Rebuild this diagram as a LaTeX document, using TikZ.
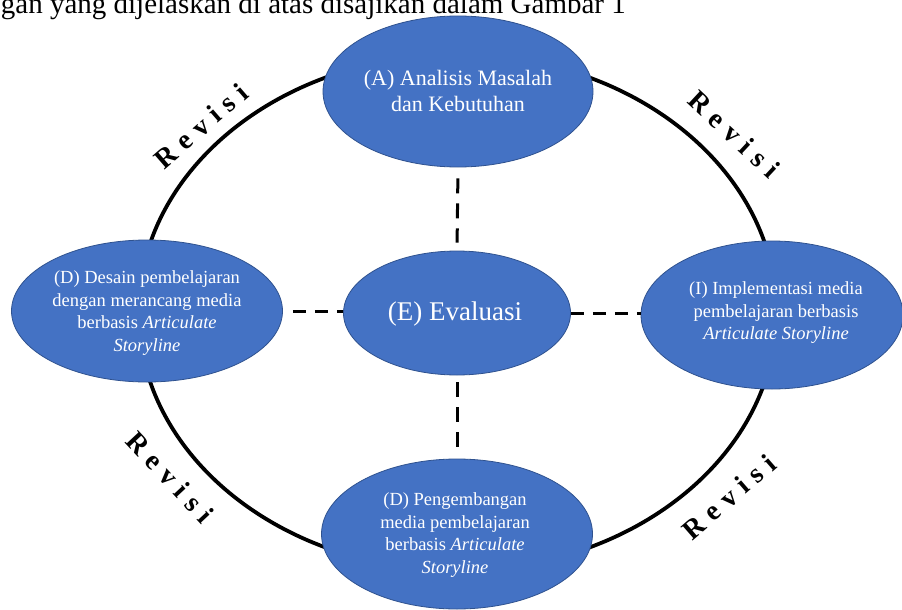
\documentclass[tikz,border=0pt]{standalone}
\usepackage{fontspec}
\setmainfont{Liberation Serif}
\usetikzlibrary{shapes.geometric}
\definecolor{blu}{HTML}{4472C4}
\definecolor{bluedge}{HTML}{2F528F}
\newcommand{\revword}{R\hspace{8pt}e\hspace{8pt}v\hspace{8pt}i\hspace{8pt}s\hspace{8pt}i}
\begin{document}
\begin{tikzpicture}[x=1pt,y=-1pt,
  blob/.style={ellipse, fill=blu, draw=bluedge, line width=0.8pt, inner sep=0pt},
  txt/.style={text=white, align=center, font=\fontsize{18.5}{22.5}\selectfont},
  ring/.style={line width=3.8pt, black},
  dashline/.style={line width=3pt, dash pattern=on 13pt off 9pt},
  vdashline/.style={line width=3pt, dash pattern=on 15pt off 10pt},
  revlabel/.style={font=\fontsize{28}{32}\selectfont\bfseries, inner sep=0pt}]
\useasboundingbox (0,0) rectangle (902,610);
\fill[white] (0,0) rectangle (902,610);
% header text (cut at the top, as in the source)
\node[anchor=base east, inner sep=0pt, font=\fontsize{29}{34}\selectfont] (hdr) at (626,14) {gan yang dijelaskan di atas disajikan dalam Gambar 1};
% ring
\coordinate (ringc) at (457.5,312.5);
\draw[ring] (ringc) ellipse [x radius=319pt, y radius=258pt];
% ellipses
\node[blob, minimum width=270pt, minimum height=151pt] (A) at (458,91.5) {};
\node[blob, minimum width=271pt, minimum height=142pt] (Dl) at (147,311) {};
\node[blob, minimum width=227pt, minimum height=124pt] (E) at (457,313) {};
\node[blob, minimum width=262pt, minimum height=148pt] (I) at (772,315) {};
\node[blob, minimum width=271pt, minimum height=150pt] (Db) at (457,534) {};
% texts
\node[txt, font=\fontsize{22}{26.5}\selectfont] (tA) at (458,91) {(A) Analisis Masalah\\dan Kebutuhan};
\node[txt] (tDl) at (147,313) {(D) Desain pembelajaran\\dengan merancang media\\berbasis \textit{Articulate}\\\textit{Storyline}};
\node[txt, font=\fontsize{27}{32}\selectfont] (tE) at (455,314) {(E) Evaluasi};
\node[txt] (tI) at (776,313) {(I) Implementasi media\\pembelajaran berbasis\\\textit{Articulate Storyline}};
\node[txt] (tDb) at (455,535) {(D) Pengembangan\\media pembelajaran\\berbasis \textit{Articulate}\\\textit{Storyline}};
% dashed connectors
\draw[vdashline, shorten <=11pt, shorten >=8pt] (A.south) -- (E.north);
\draw[vdashline, shorten <=7pt, shorten >=12pt] (E.south) -- (Db.north);
\draw[dashline, shorten <=10pt] (Dl.east) -- (Dl.east -| E.west);
\draw[dashline] (E.east) -- (E.east -| I.west);
% Revisi labels
\node[revlabel, rotate=41] (r1) at (201,126) {\revword};
\node[revlabel, rotate=-43] (r2) at (734,134) {\revword};
\node[revlabel, rotate=-47] (r3) at (170,477) {\revword};
\node[revlabel, rotate=41] (r4) at (729,497) {\revword};
\end{tikzpicture}
\end{document}
